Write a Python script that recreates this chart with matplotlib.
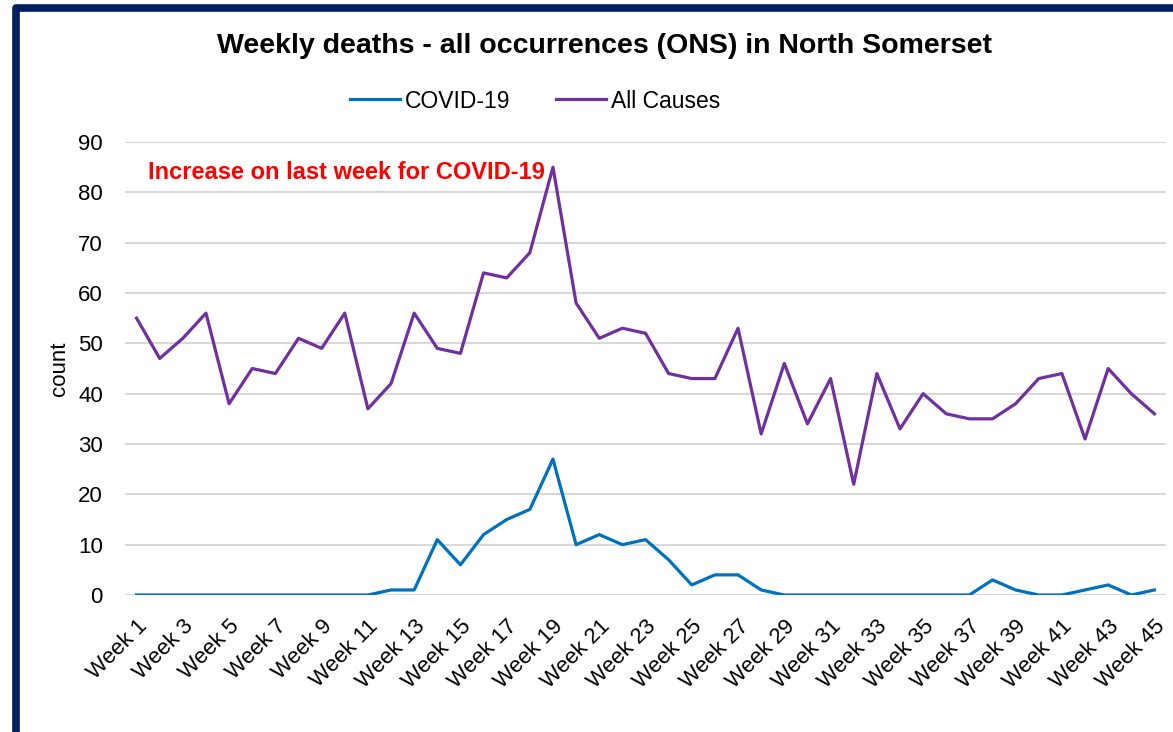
import matplotlib.pyplot as plt
import matplotlib.patches as mpatches
import matplotlib.transforms as mtransforms

# weekly death counts
weeks = ['Week %d' % i for i in range(1, 46)]
covid = [0, 0, 0, 0, 0, 0, 0, 0, 0, 0, 0, 1, 1, 11, 6, 12, 15, 17, 27, 10,
         12, 10, 11, 7, 2, 4, 4, 1, 0, 0, 0, 0, 0, 0, 0, 0, 0, 3, 1, 0,
         0, 1, 2, 0, 1]
all_causes = [55, 47, 51, 56, 38, 45, 44, 51, 49, 56, 37, 42, 56, 49, 48, 64, 63, 68, 85, 58,
              51, 53, 52, 44, 43, 43, 53, 32, 46, 34, 43, 22, 44, 33, 40, 36, 35, 35, 38, 43,
              44, 31, 45, 40, 36]

plt.rcParams['font.family'] = ['Liberation Sans', 'DejaVu Sans']

fig = plt.figure(figsize=(11.73, 7.32), dpi=100)
ax = fig.add_axes([125 / 1173, 137 / 732, 1041 / 1173, 453 / 732])

x = list(range(1, len(weeks) + 1))
ax.plot(x, covid, color='#0070C0', lw=2.3, label='COVID-19', solid_joinstyle='round')
ax.plot(x, all_causes, color='#7030A0', lw=2.3, label='All Causes', solid_joinstyle='round')

ax.set_xlim(0.5, len(weeks) + 0.5)
ax.set_ylim(0, 90)
ax.set_yticks(range(0, 91, 10))
ax.set_xticks(x[::2])
ax.set_xticklabels(weeks[::2], rotation=45, ha='right', va='top', rotation_mode='anchor', fontsize=16)
# nudge the rotated labels slightly left so their ends sit at the ticks
shift = mtransforms.ScaledTranslation(-6 / 100, 0, fig.dpi_scale_trans)
for lbl in ax.get_xticklabels():
    lbl.set_transform(lbl.get_transform() + shift)
ax.tick_params(axis='y', labelsize=16, length=0, pad=16)
ax.tick_params(axis='x', length=0, pad=15)
ax.grid(axis='y', color='#D9D9D9', lw=1.5)
ax.set_axisbelow(True)
for s in ax.spines.values():
    s.set_visible(False)
ax.set_ylabel('count', fontsize=16, labelpad=6)

ax.text(1.49, 84, 'Increase on last week for COVID-19', color='#FF0000',
        fontsize=17, fontweight='bold', va='center', ha='left')

fig.text(0.515, 0.937, 'Weekly deaths - all occurrences (ONS) in North Somerset',
         fontsize=20.5, fontweight='bold', ha='center', va='center')
fig.legend(loc='center', bbox_to_anchor=(535 / 1173, 0.862), ncol=2, frameon=False,
           fontsize=16.5, handlelength=2.2, handletextpad=0.2, columnspacing=2.0)

# navy frame around the chart
fig.patches.append(mpatches.Rectangle((15.5 / 1173, -4 / 732), 1.2, 728 / 732,
                                      transform=fig.transFigure, fill=False,
                                      edgecolor='#002060', lw=5.5, joinstyle='round'))

fig.savefig('out.png', dpi=100)
